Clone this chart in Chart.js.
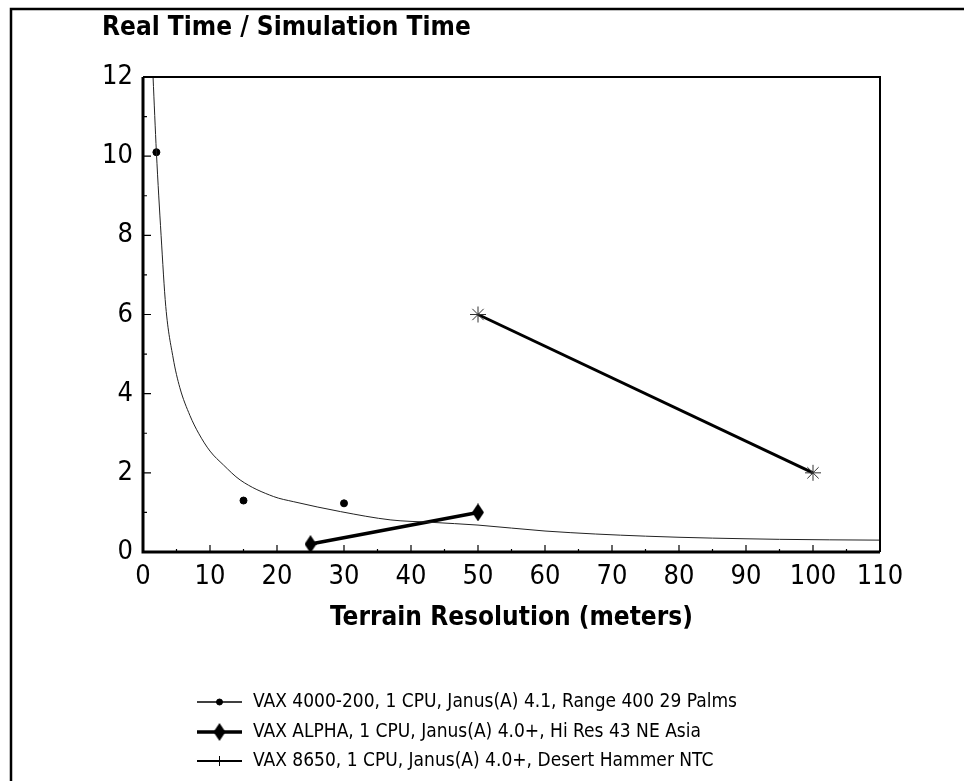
<!DOCTYPE html>
<html>
<head>
<meta charset="utf-8">
<title>Real Time / Simulation Time</title>
<script src="https://cdn.jsdelivr.net/npm/chart.js@4.4.1/dist/chart.umd.min.js"></script>
<style>
    html, body { margin: 0; padding: 0; background: #fff; }
    #wrap { position: relative; width: 964px; height: 781px; }
</style>
</head>
<body>
<div id="wrap"><canvas id="chart"></canvas></div>
<script>
// Data
const xTicks = [0, 10, 20, 30, 40, 50, 60, 70, 80, 90, 100, 110];
const yTicks = [0, 2, 4, 6, 8, 10, 12];

const seriesNames = [
    'VAX 4000-200, 1 CPU, Janus(A) 4.1, Range 400 29 Palms',
    'VAX ALPHA, 1 CPU, Janus(A) 4.0+, Hi Res 43 NE Asia',
    'VAX 8650, 1 CPU, Janus(A) 4.0+, Desert Hammer NTC'
];

// VAX 4000-200 measurements (dots)
const vax4000X = [2, 15, 30];
const vax4000Y = [10.1, 1.3, 1.23];

// fitted curve through the VAX 4000-200 points, as drawn
const fitX = [1.5, 2.0, 2.7, 3.4, 4.5, 5.5, 7.0, 8.3, 10, 12, 14.5, 19.5, 22.5, 29.5, 37, 43, 50, 60, 75, 95, 110];
const fitY = [12, 10.1, 8.0, 6.2, 4.9, 4.15, 3.45, 3.0, 2.55, 2.2, 1.82, 1.4, 1.27, 1.02, 0.81, 0.75, 0.68, 0.53, 0.4, 0.32, 0.3];

// VAX ALPHA (diamonds)
const alphaX = [25, 50];
const alphaY = [0.2, 1.0];

// VAX 8650 (stars)
const vax8650X = [50, 100];
const vax8650Y = [6, 2];

const FONT = '"Liberation Sans Narrow", "DejaVu Sans Condensed", "Liberation Sans", sans-serif';
Chart.defaults.font.family = FONT;
Chart.defaults.color = '#000';

// Build {x, y} points from two arrays
function toPoints(xs, ys) {
    return xs.map((x, i) => ({ x: x, y: ys[i] }));
}

// Tall black diamond used as a point style
function makeDiamond(w, h) {
    const c = document.createElement('canvas');
    c.width = w;
    c.height = h;
    const g = c.getContext('2d');
    g.fillStyle = '#000';
    g.beginPath();
    g.moveTo(w / 2, 0);
    g.lineTo(w, h / 2);
    g.lineTo(w / 2, h);
    g.lineTo(0, h / 2);
    g.closePath();
    g.fill();
    return c;
}
const diamond = makeDiamond(12, 18);

// Page frame, plot box and inward tick marks
const framePlugin = {
    id: 'frame',
    afterDraw(chart) {
        const ctx = chart.ctx;
        const a = chart.chartArea;
        const xs = chart.scales.x;
        const ys = chart.scales.y;
        ctx.save();
        ctx.strokeStyle = '#000';

        // outer frame (top and left edges only)
        ctx.lineWidth = 2.5;
        ctx.beginPath();
        ctx.moveTo(11, 781);
        ctx.lineTo(11, 9);
        ctx.lineTo(964, 9);
        ctx.stroke();

        // plot box
        ctx.lineWidth = 2;
        ctx.beginPath();
        ctx.moveTo(a.left, a.top);
        ctx.lineTo(a.right, a.top);
        ctx.lineTo(a.right, a.bottom);
        ctx.stroke();
        ctx.lineWidth = 3;
        ctx.beginPath();
        ctx.moveTo(a.left, a.top);
        ctx.lineTo(a.left, a.bottom);
        ctx.lineTo(a.right, a.bottom);
        ctx.stroke();

        // inward ticks
        ctx.lineWidth = 1.2;
        ctx.beginPath();
        for (let v = 5; v < 110; v += 5) {
            const px = xs.getPixelForValue(v);
            const len = v % 10 === 0 ? 7 : 3;
            ctx.moveTo(px, a.bottom);
            ctx.lineTo(px, a.bottom - len);
        }
        for (let v = 1; v < 12; v += 1) {
            const py = ys.getPixelForValue(v);
            const len = v % 2 === 0 ? 8 : 4;
            ctx.moveTo(a.left, py);
            ctx.lineTo(a.left + len, py);
        }
        ctx.stroke();
        ctx.restore();
    }
};

// Legend drawn as rows under the axis title
const legendPlugin = {
    id: 'rowLegend',
    afterDraw(chart) {
        const ctx = chart.ctx;
        const rows = [702, 732, 761];
        const x0 = 197, x1 = 242, tx = 253;
        ctx.save();
        chart.data.datasets.forEach(ds => {
            if (ds.legendRow === undefined) return;
            const y = rows[ds.legendRow];
            ctx.strokeStyle = '#000';
            ctx.lineWidth = ds.legendLineWidth;
            ctx.beginPath();
            ctx.moveTo(x0, y);
            ctx.lineTo(x1, y);
            ctx.stroke();
            ctx.lineWidth = 1;
            Chart.helpers.drawPoint(ctx, {
                pointStyle: ds.legendStyle || ds.pointStyle,
                radius: ds.legendRadius,
                borderWidth: 1,
                rotation: 0
            }, (x0 + x1) / 2, y);
            ctx.fillStyle = '#000';
            ctx.font = '19px ' + FONT;
            ctx.textBaseline = 'middle';
            ctx.textAlign = 'left';
            ctx.fillText(ds.label, tx, y);
        });
        ctx.restore();
    }
};

const ctx = document.getElementById('chart').getContext('2d');

const chart = new Chart(ctx, {
    type: 'line',
    data: {
        datasets: [
            {
                label: seriesNames[0] + ' (fit)',
                data: toPoints(fitX, fitY),
                borderColor: '#222',
                borderWidth: 1,
                pointRadius: 0,
                cubicInterpolationMode: 'monotone',
                fill: false
            },
            {
                label: seriesNames[0],
                data: toPoints(vax4000X, vax4000Y),
                showLine: false,
                pointStyle: 'circle',
                pointRadius: 3.5,
                pointBackgroundColor: '#000',
                pointBorderColor: '#000',
                legendRow: 0,
                legendLineWidth: 1.3,
                legendRadius: 3,
                clip: false
            },
            {
                label: seriesNames[1],
                data: toPoints(alphaX, alphaY),
                borderColor: '#000',
                borderWidth: 3.5,
                pointStyle: diamond,
                pointRadius: 9,
                legendRow: 1,
                legendLineWidth: 3.5,
                legendRadius: 9,
                clip: false
            },
            {
                label: seriesNames[2],
                data: toPoints(vax8650X, vax8650Y),
                borderColor: '#000',
                borderWidth: 3,
                pointStyle: 'star',
                pointRadius: 8,
                pointBorderWidth: 1,
                pointBorderColor: '#333',
                pointBackgroundColor: '#333',
                legendRow: 2,
                legendStyle: 'cross',
                legendLineWidth: 2,
                legendRadius: 5,
                clip: false
            }
        ]
    },
    options: {
        responsive: true,
        maintainAspectRatio: false,
        animation: false,
        layout: {
            padding: { left: 102, right: 84, top: 12.4, bottom: 144 }
        },
        plugins: {
            legend: { display: false },
            tooltip: { enabled: false },
            title: {
                display: true,
                text: 'Real Time / Simulation Time',
                align: 'start',
                color: '#000',
                font: { size: 26, weight: 'bold', lineHeight: 1.2 },
                padding: { top: 0, bottom: 33.4 }
            }
        },
        scales: {
            x: {
                type: 'linear',
                min: 0,
                max: 110,
                afterFit: scale => { scale.height = 85; },
                afterBuildTicks: scale => {
                    scale.ticks = xTicks.map(v => ({ value: v }));
                },
                grid: { display: false, drawTicks: false },
                border: { display: false },
                ticks: {
                    padding: 9,
                    maxRotation: 0,
                    color: '#000',
                    font: { size: 27 }
                },
                title: {
                    display: true,
                    text: 'Terrain Resolution (meters)',
                    color: '#000',
                    font: { size: 26, weight: 'bold', lineHeight: 1.2 },
                    padding: { top: 2, bottom: 3.4 }
                }
            },
            y: {
                type: 'linear',
                min: 0,
                max: 12,
                afterFit: scale => { scale.width = 41; },
                afterBuildTicks: scale => {
                    scale.ticks = yTicks.map(v => ({ value: v }));
                },
                grid: { display: false, drawTicks: false },
                border: { display: false },
                ticks: {
                    padding: 10,
                    color: '#000',
                    font: { size: 27 }
                }
            }
        }
    },
    plugins: [framePlugin, legendPlugin]
});
</script>
</body>
</html>
